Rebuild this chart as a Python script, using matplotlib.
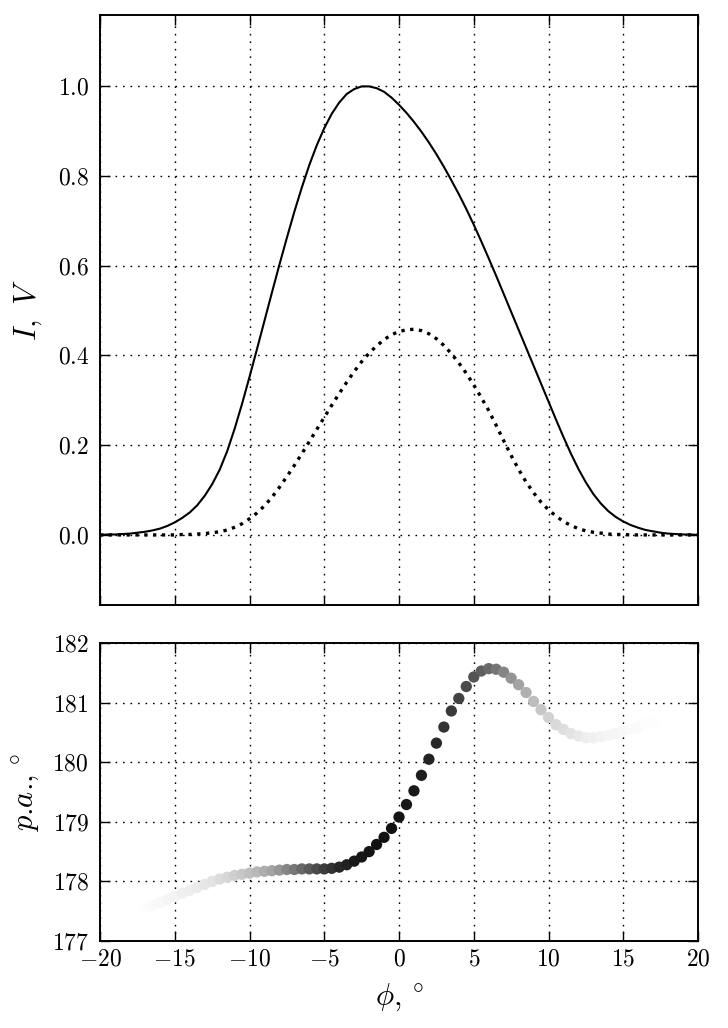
import matplotlib
matplotlib.use('Agg')
import matplotlib.pyplot as plt
from matplotlib.ticker import FuncFormatter, MultipleLocator
import numpy as np

plt.rcParams['mathtext.fontset'] = 'cm'
plt.rcParams['font.family'] = 'serif'
plt.rcParams['font.serif'] = ['cmr10', 'DejaVu Serif']
plt.rcParams['axes.formatter.use_mathtext'] = True

# longitude grid, 0.5 deg step
phi = np.arange(-20, 20.01, 0.5)

# total intensity I (normalised)
I = [0.000, 0.001, 0.001, 0.002, 0.003, 0.005, 0.007, 0.010, 0.014, 0.020,
     0.028, 0.038, 0.050, 0.066, 0.087, 0.113, 0.145, 0.186, 0.236, 0.292,
     0.352, 0.414, 0.477, 0.540, 0.602, 0.662, 0.720, 0.774, 0.824, 0.868,
     0.906, 0.938, 0.963, 0.982, 0.993, 0.999, 0.999, 0.995, 0.987, 0.974,
     0.958, 0.940, 0.920, 0.898, 0.874, 0.848, 0.820, 0.790, 0.759, 0.726,
     0.691, 0.654, 0.616, 0.577, 0.537, 0.497, 0.457, 0.417, 0.377, 0.337,
     0.297, 0.257, 0.218, 0.181, 0.147, 0.117, 0.091, 0.070, 0.053, 0.040,
     0.030, 0.022, 0.016, 0.011, 0.008, 0.005, 0.003, 0.002, 0.001, 0.001,
     0.000]

# circular polarisation V
V = [0.000, 0.000, 0.000, 0.000, 0.000, 0.000, 0.000, 0.000, 0.000, 0.000,
     0.000, 0.001, 0.001, 0.002, 0.003, 0.005, 0.007, 0.011, 0.017, 0.025,
     0.036, 0.049, 0.065, 0.084, 0.106, 0.130, 0.155, 0.181, 0.208, 0.235,
     0.262, 0.289, 0.315, 0.340, 0.364, 0.386, 0.405, 0.421, 0.435, 0.446,
     0.453, 0.457, 0.458, 0.455, 0.448, 0.437, 0.422, 0.404, 0.383, 0.360,
     0.334, 0.306, 0.277, 0.244, 0.210, 0.177, 0.146, 0.118, 0.094, 0.073,
     0.056, 0.042, 0.030, 0.021, 0.014, 0.009, 0.006, 0.004, 0.002, 0.001,
     0.001, 0.000, 0.000, 0.000, 0.000, 0.000, 0.000, 0.000, 0.000, 0.000,
     0.000]

# position angle, -17 .. 17 deg
pa_phi = np.arange(-17, 17.01, 0.5)
pa = [177.55, 177.60, 177.65, 177.70, 177.75, 177.80, 177.85, 177.90, 177.95, 178.00,
      178.04, 178.07, 178.10, 178.12, 178.14, 178.16, 178.17, 178.18, 178.19, 178.20,
      178.20, 178.21, 178.21, 178.21, 178.21, 178.22, 178.24, 178.28, 178.34, 178.41,
      178.50, 178.62, 178.74, 178.89, 179.08, 179.29, 179.52, 179.78, 180.05, 180.32,
      180.59, 180.86, 181.07, 181.27, 181.43, 181.53, 181.57, 181.56, 181.51, 181.41,
      181.30, 181.17, 181.02, 180.88, 180.75, 180.63, 180.55, 180.48, 180.44, 180.41,
      180.41, 180.43, 180.45, 180.48, 180.52, 180.56, 180.59, 180.64, 180.68]
# shade of each p.a. point (0 white .. 1 black)
pa_shade = [0.01, 0.02, 0.03, 0.04, 0.05, 0.06, 0.07, 0.08, 0.10, 0.11,
            0.14, 0.16, 0.19, 0.22, 0.25, 0.28, 0.32, 0.36, 0.41, 0.47,
            0.53, 0.59, 0.65, 0.71, 0.76, 0.80, 0.84, 0.87, 0.90, 0.91,
            0.92, 0.93, 0.93, 0.93, 0.92, 0.91, 0.90, 0.88, 0.86, 0.84,
            0.80, 0.77, 0.74, 0.71, 0.67, 0.63, 0.59, 0.54, 0.48, 0.42,
            0.36, 0.31, 0.26, 0.22, 0.18, 0.15, 0.13, 0.11, 0.09, 0.07,
            0.06, 0.05, 0.04, 0.04, 0.03, 0.02, 0.02, 0.01, 0.01]

fig = plt.figure(figsize=(7.28, 10.28), dpi=100)
ax1 = fig.add_axes([0.1374, 0.4115, 0.8214, 0.5739])
ax2 = fig.add_axes([0.1374, 0.0846, 0.8214, 0.2899], sharex=ax1)

ax1.plot(phi, I, color='k', lw=1.5, zorder=3)
ax1.plot(phi, V, color='k', lw=2.4, ls=':', zorder=3)
ax1.set_ylim(-0.156, 1.158)
ax1.yaxis.set_major_locator(MultipleLocator(0.2))
ax1.yaxis.set_major_formatter(FuncFormatter(lambda v, p: '$%.1f$' % (0.0 if abs(v) < 1e-9 else v)))
ax1.set_ylabel(r'$I,\ V$', fontsize=22, labelpad=10)
plt.setp(ax1.get_xticklabels(), visible=False)

ax2.scatter(pa_phi, pa, c=pa_shade, cmap='gray_r', vmin=0, vmax=1, s=66,
            edgecolors='none', zorder=3)
ax2.set_ylim(177, 182)
ax2.yaxis.set_major_locator(MultipleLocator(1))
ax2.yaxis.set_major_formatter(FuncFormatter(lambda v, p: '$%d$' % round(v)))
ax2.set_ylabel(r'$p$.$a$.,$\,^\circ$', fontsize=22, labelpad=8)
ax2.set_xlabel(r'$\phi,^\circ$', fontsize=22, labelpad=8)

ax2.set_xlim(-20, 20)
ax2.xaxis.set_major_locator(MultipleLocator(5))
ax2.xaxis.set_major_formatter(FuncFormatter(lambda v, p: '$%d$' % round(v)))

for ax in (ax1, ax2):
    ax.grid(True, color='k', ls=(0, (1.2, 4.2)), lw=1.0)
    ax.tick_params(direction='in', length=7, width=1, top=True, right=True,
                   labelsize=17)
    ax.tick_params(axis='y', pad=8)
    ax.tick_params(axis='x', pad=5)
    for s in ax.spines.values():
        s.set_linewidth(1.4)

plt.savefig('out.png', dpi=100)
